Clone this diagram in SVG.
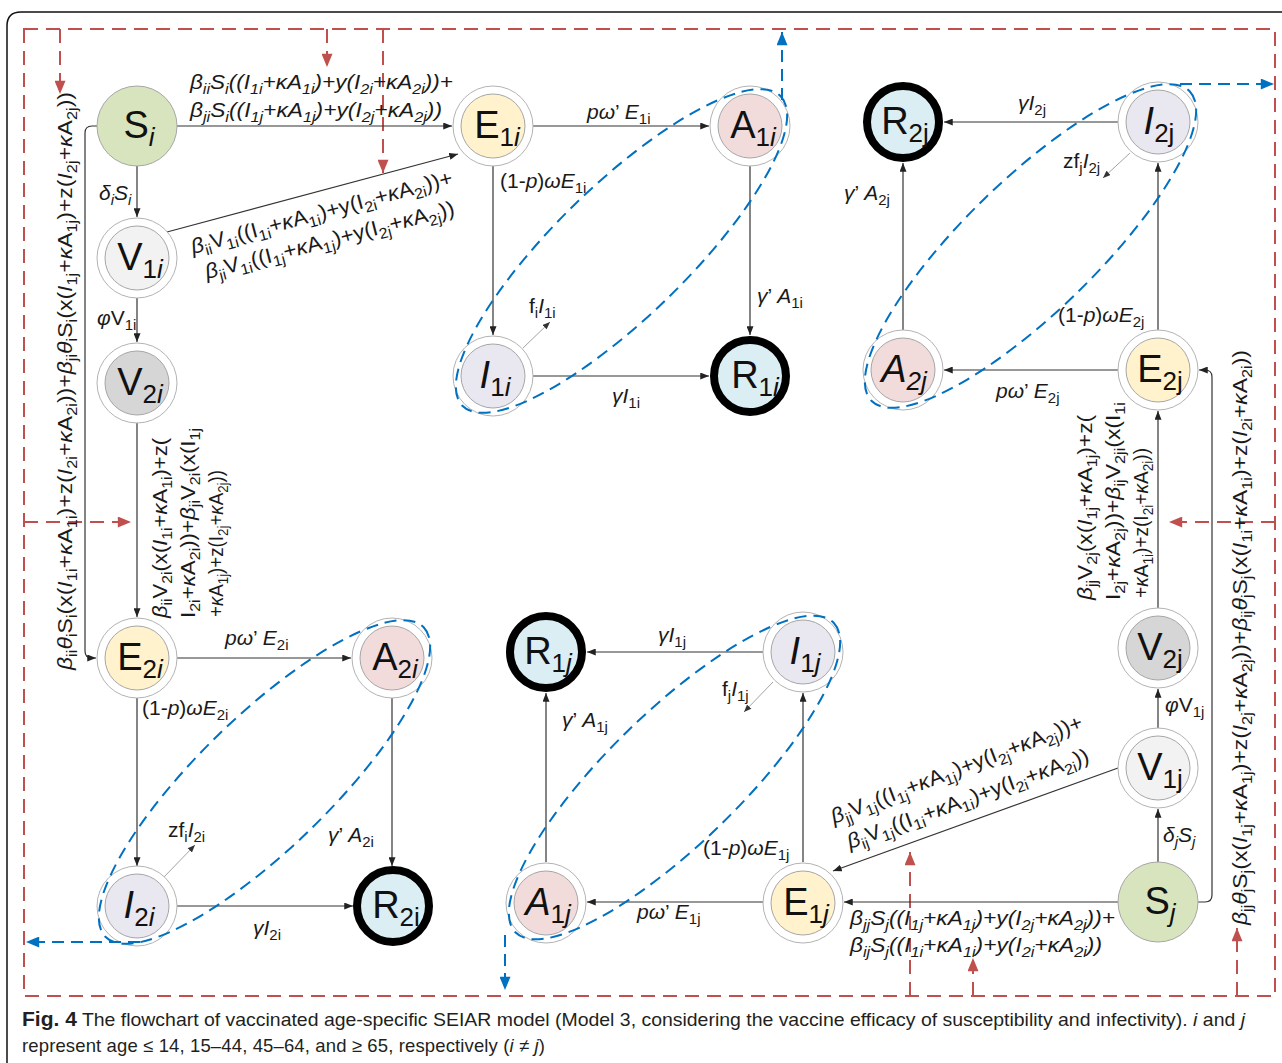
<svg xmlns="http://www.w3.org/2000/svg" width="1282" height="1063" viewBox="0 0 1282 1063">
<style>
.ex{font-family:"Liberation Sans",Arial,sans-serif;font-size:21px;fill:#1a1a1a}
.b{font-size:15px;baseline-shift:-5px}
.i{font-style:italic}
.sf{font-family:"Liberation Serif","Times New Roman",serif}
.nl{font-family:"Liberation Sans",Arial,sans-serif;font-size:38px;fill:#111;text-anchor:middle}
.ns{font-size:26px;baseline-shift:-8px}
.ln{fill:none;stroke:#333;stroke-width:1.2}
.fl{fill:none;stroke:#999;stroke-width:0.9}
.rd{fill:none;stroke:#c0504d;stroke-width:2;stroke-dasharray:14 8}
.bl{fill:none;stroke:#0070c0;stroke-width:2;stroke-dasharray:12 7}
.ring{fill:#fff;stroke:#b3b3b3;stroke-width:1}
.inn{stroke:#a6a6a6;stroke-width:1}
.R{fill:#daeef3;stroke:#000;stroke-width:8}
.S{fill:#d7e4bd;stroke:#a6a6a6;stroke-width:1}
.fE{fill:#fff2cc}.fA{fill:#f2dcdb}.fI{fill:#e9e7ef}.fV1{fill:#f2f2f2}.fV2{fill:#d6d6d6}
.cap{font-family:"Liberation Sans",Arial,sans-serif;font-size:18.5px;fill:#231f20}
</style>
<defs>
<marker id="ak" viewBox="0 0 10 8" refX="10" refY="4" markerWidth="9" markerHeight="7" markerUnits="userSpaceOnUse" orient="auto"><path d="M0,0L10,4L0,8z" fill="#222"/></marker>
<marker id="ag" viewBox="0 0 10 8" refX="10" refY="4" markerWidth="8" markerHeight="6" markerUnits="userSpaceOnUse" orient="auto"><path d="M0,0L10,4L0,8z" fill="#333"/></marker>
<marker id="ar" viewBox="0 0 12 10" refX="12" refY="5" markerWidth="14" markerHeight="11" markerUnits="userSpaceOnUse" orient="auto"><path d="M0,0L12,5L0,10z" fill="#c0504d"/></marker>
<marker id="ab" viewBox="0 0 12 10" refX="12" refY="5" markerWidth="14" markerHeight="11" markerUnits="userSpaceOnUse" orient="auto"><path d="M0,0L12,5L0,10z" fill="#0070c0"/></marker>
</defs>
<rect width="1282" height="1063" fill="#fff"/>
<path d="M7,1063 V26 Q7,12 21,12 H1282" fill="none" stroke="#111" stroke-width="1.5"/>

<g id="red-dashed">
<path class="rd" d="M24,29 H1275 V996 H24 Z"/>
<path class="rd" d="M60,29 V94" marker-end="url(#ar)"/>
<path class="rd" d="M327,29 V67" marker-end="url(#ar)"/>
<path class="rd" d="M383,29 V173" marker-end="url(#ar)"/>
<path class="rd" d="M24,522 H131" marker-end="url(#ar)"/>
<path class="rd" d="M1275,522 H1169" marker-end="url(#ar)"/>
<path class="rd" d="M910,996 V852" marker-end="url(#ar)"/>
<path class="rd" d="M973,996 V958" marker-end="url(#ar)"/>
<path class="rd" d="M1237,996 V928" marker-end="url(#ar)"/>
</g>

<g id="connectors">
<path class="ln" d="M177,126 H452" marker-end="url(#ak)"/>
<path class="ln" d="M137,166 V217" marker-end="url(#ak)"/>
<path class="ln" d="M167,232 L458,154" marker-end="url(#ak)"/>
<path class="ln" d="M137,298 V342" marker-end="url(#ak)"/>
<path class="ln" d="M137,423 V617" marker-end="url(#ak)"/>
<path class="ln" d="M97,126 H92 Q85,126 85,133 V651 Q85,658 92,658 H96" marker-end="url(#ak)"/>
<path class="ln" d="M177,658 H351" marker-end="url(#ak)"/>
<path class="ln" d="M137,698 V866" marker-end="url(#ak)"/>
<path class="ln" d="M392,698 V866" marker-end="url(#ak)"/>
<path class="ln" d="M177,906 H353" marker-end="url(#ak)"/>
<path class="fl" d="M163,878 L195,845" marker-end="url(#ag)"/>
<path class="ln" d="M533,126 H709" marker-end="url(#ak)"/>
<path class="ln" d="M493,166 V335" marker-end="url(#ak)"/>
<path class="ln" d="M750,166 V335" marker-end="url(#ak)"/>
<path class="ln" d="M533,376 H709" marker-end="url(#ak)"/>
<path class="fl" d="M523,348 L550,322" marker-end="url(#ag)"/>
<path class="ln" d="M1118,122 H944" marker-end="url(#ak)"/>
<path class="ln" d="M903,330 V163" marker-end="url(#ak)"/>
<path class="ln" d="M1118,370 H944" marker-end="url(#ak)"/>
<path class="ln" d="M1158,330 V163" marker-end="url(#ak)"/>
<path class="fl" d="M1130,153 L1103,178" marker-end="url(#ag)"/>
<path class="ln" d="M1158,608 V411" marker-end="url(#ak)"/>
<path class="ln" d="M1158,728 V689" marker-end="url(#ak)"/>
<path class="ln" d="M1158,862 V809" marker-end="url(#ak)"/>
<path class="ln" d="M1198,902 H1205 Q1212,902 1212,895 V377 Q1212,370 1205,370 H1199" marker-end="url(#ak)"/>
<path class="ln" d="M1118,902 H844" marker-end="url(#ak)"/>
<path class="ln" d="M1118,768 L833,871" marker-end="url(#ak)"/>
<path class="ln" d="M763,902 H587" marker-end="url(#ak)"/>
<path class="ln" d="M803,862 V693" marker-end="url(#ak)"/>
<path class="ln" d="M546,862 V693" marker-end="url(#ak)"/>
<path class="ln" d="M763,652 H587" marker-end="url(#ak)"/>
<path class="fl" d="M773,682 L744,712" marker-end="url(#ag)"/>
</g>

<g id="S_i"><circle class="S" cx="137" cy="126" r="40"/><text class="nl" x="139" y="138">S<tspan class="ns i">i</tspan></text></g>
<g id="V_1i"><circle class="ring" cx="137" cy="258" r="40"/><circle class="inn fV1" cx="137" cy="258" r="32"/><text class="nl" x="140" y="270">V<tspan class="ns">1</tspan><tspan class="ns i">i</tspan></text></g>
<g id="V_2i"><circle class="ring" cx="137" cy="383" r="40"/><circle class="inn fV2" cx="137" cy="383" r="32"/><text class="nl" x="140" y="395">V<tspan class="ns">2</tspan><tspan class="ns i">i</tspan></text></g>
<g id="E_2i"><circle class="ring" cx="137" cy="658" r="40"/><circle class="inn fE" cx="137" cy="658" r="32"/><text class="nl" x="140" y="670">E<tspan class="ns">2</tspan><tspan class="ns i">i</tspan></text></g>
<g id="A_2i"><circle class="ring" cx="392" cy="658" r="40"/><circle class="inn fA" cx="392" cy="658" r="32"/><text class="nl" x="395" y="670">A<tspan class="ns">2</tspan><tspan class="ns i">i</tspan></text></g>
<g id="I_2i"><circle class="ring" cx="137" cy="906" r="40"/><circle class="inn fI" cx="137" cy="906" r="32"/><text class="nl" x="139" y="918"><tspan class="i">I</tspan><tspan class="ns">2</tspan><tspan class="ns i">i</tspan></text></g>
<g id="R_2i"><circle class="R" cx="393" cy="906" r="36"/><text class="nl" x="396" y="918">R<tspan class="ns">2i</tspan></text></g>
<g id="E_1i"><circle class="ring" cx="493" cy="126" r="40"/><circle class="inn fE" cx="493" cy="126" r="32"/><text class="nl" x="497" y="138">E<tspan class="ns">1</tspan><tspan class="ns i">i</tspan></text></g>
<g id="A_1i"><circle class="ring" cx="750" cy="126" r="40"/><circle class="inn fA" cx="750" cy="126" r="32"/><text class="nl" x="753" y="138">A<tspan class="ns">1</tspan><tspan class="ns i">i</tspan></text></g>
<g id="I_1i"><circle class="ring" cx="493" cy="376" r="40"/><circle class="inn fI" cx="493" cy="376" r="32"/><text class="nl" x="495" y="388"><tspan class="i">I</tspan><tspan class="ns">1</tspan><tspan class="ns i">i</tspan></text></g>
<g id="R_1i"><circle class="R" cx="750" cy="376" r="36"/><text class="nl" x="755" y="388">R<tspan class="ns">1</tspan><tspan class="ns i">i</tspan></text></g>
<g id="R_2j"><circle class="R" cx="903" cy="122" r="36"/><text class="nl" x="905" y="134">R<tspan class="ns">2j</tspan></text></g>
<g id="I_2j"><circle class="ring" cx="1158" cy="122" r="40"/><circle class="inn fI" cx="1158" cy="122" r="32"/><text class="nl" x="1159" y="134"><tspan class="i">I</tspan><tspan class="ns">2j</tspan></text></g>
<g id="A_2j"><circle class="ring" cx="903" cy="370" r="40"/><circle class="inn fA" cx="903" cy="370" r="32"/><text class="nl sf i" x="904" y="382">A<tspan class="ns">2j</tspan></text></g>
<g id="E_2j"><circle class="ring" cx="1158" cy="370" r="40"/><circle class="inn fE" cx="1158" cy="370" r="32"/><text class="nl" x="1160" y="382">E<tspan class="ns">2j</tspan></text></g>
<g id="V_2j"><circle class="ring" cx="1158" cy="648" r="40"/><circle class="inn fV2" cx="1158" cy="648" r="32"/><text class="nl" x="1160" y="660">V<tspan class="ns">2j</tspan></text></g>
<g id="V_1j"><circle class="ring" cx="1158" cy="768" r="40"/><circle class="inn fV1" cx="1158" cy="768" r="32"/><text class="nl" x="1160" y="780">V<tspan class="ns">1j</tspan></text></g>
<g id="S_j"><circle class="S" cx="1158" cy="902" r="40"/><text class="nl" x="1160" y="914">S<tspan class="ns i">j</tspan></text></g>
<g id="R_1j"><circle class="R" cx="546" cy="652" r="36"/><text class="nl" x="548" y="664">R<tspan class="ns">1</tspan><tspan class="ns i">j</tspan></text></g>
<g id="I_1j"><circle class="ring" cx="803" cy="652" r="40"/><circle class="inn fI" cx="803" cy="652" r="32"/><text class="nl" x="805" y="664"><tspan class="i">I</tspan><tspan class="ns">1</tspan><tspan class="ns i">j</tspan></text></g>
<g id="A_1j"><circle class="ring" cx="546" cy="903" r="40"/><circle class="inn fA" cx="546" cy="903" r="32"/><text class="nl" x="548" y="915"><tspan class="i">A</tspan><tspan class="ns">1</tspan><tspan class="ns i">j</tspan></text></g>
<g id="E_1j"><circle class="ring" cx="803" cy="903" r="40"/><circle class="inn fE" cx="803" cy="903" r="32"/><text class="nl" x="806" y="915">E<tspan class="ns">1</tspan><tspan class="ns i">j</tspan></text></g>

<g id="blue-dashed">
<ellipse class="bl" cx="621.5" cy="251" rx="222" ry="66" transform="rotate(-44.2 621.5 251)"/>
<ellipse class="bl" cx="1030.5" cy="246" rx="222" ry="66" transform="rotate(-44.2 1030.5 246)"/>
<ellipse class="bl" cx="264.5" cy="782" rx="222" ry="66" transform="rotate(-44.2 264.5 782)"/>
<ellipse class="bl" cx="674.5" cy="777.5" rx="222" ry="66" transform="rotate(-44.2 674.5 777.5)"/>
<path class="bl" d="M782,100 V32" marker-end="url(#ab)"/>
<path class="bl" d="M1180,84 H1274" marker-end="url(#ab)"/>
<path class="bl" d="M140,942 H26" marker-end="url(#ab)"/>
<path class="bl" d="M505,935 V990" marker-end="url(#ab)"/>
</g>

<g id="labels">
<text class="ex i" x="190" y="89" textLength="263" lengthAdjust="spacingAndGlyphs">β<tspan class="b">ii</tspan>S<tspan class="b">i</tspan>((I<tspan class="b">1i</tspan>+κA<tspan class="b">1i</tspan>)+y(I<tspan class="b">2i</tspan>+κA<tspan class="b">2i</tspan>))+</text>
<text class="ex i" x="190" y="117" textLength="252" lengthAdjust="spacingAndGlyphs">β<tspan class="b">ji</tspan>S<tspan class="b">i</tspan>((I<tspan class="b">1j</tspan>+κA<tspan class="b">1j</tspan>)+y(I<tspan class="b">2j</tspan>+κA<tspan class="b">2j</tspan>))</text>
<text class="ex i" x="99" y="200">δ<tspan class="b">i</tspan>S<tspan class="b">i</tspan></text>
<text class="ex" x="193" y="254" transform="rotate(-15 193 254)" textLength="270" lengthAdjust="spacingAndGlyphs"><tspan class="i">β</tspan><tspan class="b">ii</tspan>V<tspan class="b">1i</tspan>((I<tspan class="b">1i</tspan>+<tspan class="i">κ</tspan>A<tspan class="b">1i</tspan>)+y(I<tspan class="b">2i</tspan>+<tspan class="i">κ</tspan>A<tspan class="b">2i</tspan>))+</text>
<text class="ex" x="207" y="279" transform="rotate(-14.5 207 279)" textLength="257" lengthAdjust="spacingAndGlyphs"><tspan class="i">β</tspan><tspan class="b">ji</tspan>V<tspan class="b">1i</tspan>((I<tspan class="b">1j</tspan>+<tspan class="i">κ</tspan>A<tspan class="b">1j</tspan>)+y(I<tspan class="b">2j</tspan>+<tspan class="i">κ</tspan>A<tspan class="b">2j</tspan>))</text>
<text class="ex" x="97" y="325"><tspan class="i">φ</tspan>V<tspan class="b">1i</tspan></text>
<text class="ex" transform="translate(72,670) rotate(-90)" x="0" y="0" textLength="578" lengthAdjust="spacingAndGlyphs"><tspan class="i">β</tspan><tspan class="b">ii</tspan><tspan class="i">θ</tspan><tspan class="b">i</tspan>S<tspan class="b">i</tspan>(x(<tspan class="i">I</tspan><tspan class="b">1i</tspan>+<tspan class="i">κ</tspan>A<tspan class="b">1i</tspan>)+z(<tspan class="i">I</tspan><tspan class="b">2i</tspan>+<tspan class="i">κ</tspan>A<tspan class="b">2i</tspan>))+<tspan class="i">β</tspan><tspan class="b">ji</tspan><tspan class="i">θ</tspan><tspan class="b">i</tspan>S<tspan class="b">i</tspan>(x(<tspan class="i">I</tspan><tspan class="b">1j</tspan>+<tspan class="i">κ</tspan>A<tspan class="b">1j</tspan>)+z(<tspan class="i">I</tspan><tspan class="b">2j</tspan>+<tspan class="i">κ</tspan>A<tspan class="b">2j</tspan>))</text>
<text class="ex" transform="translate(167,618) rotate(-90)" x="0" y="0" textLength="180" lengthAdjust="spacingAndGlyphs"><tspan class="i">β</tspan><tspan class="b">ii</tspan>V<tspan class="b">2i</tspan>(x(<tspan class="i">I</tspan><tspan class="b">1i</tspan>+<tspan class="i">κ</tspan>A<tspan class="b">1i</tspan>)+z(</text>
<text class="ex" transform="translate(195,618) rotate(-90)" x="0" y="0" textLength="190" lengthAdjust="spacingAndGlyphs">I<tspan class="b">2i</tspan>+<tspan class="i">κ</tspan>A<tspan class="b">2i</tspan>))+<tspan class="i">β</tspan><tspan class="b">ji</tspan>V<tspan class="b">2i</tspan>(x(I<tspan class="b">1j</tspan></text>
<text class="ex" transform="translate(223,617) rotate(-90)" x="0" y="0" textLength="147" lengthAdjust="spacingAndGlyphs">+<tspan class="i">κ</tspan>A<tspan class="b">1j</tspan>)+z(I<tspan class="b">2j</tspan>+<tspan class="i">κ</tspan>A<tspan class="b">2j</tspan>))</text>
<text class="ex" x="225" y="645"><tspan class="i">pω</tspan>’ <tspan class="i">E</tspan><tspan class="b">2i</tspan></text>
<text class="ex" x="142" y="715">(1-<tspan class="i">p</tspan>)<tspan class="i">ωE</tspan><tspan class="b">2i</tspan></text>
<text class="ex" x="168" y="837">zf<tspan class="b">i</tspan><tspan class="i">I</tspan><tspan class="b">2i</tspan></text>
<text class="ex" x="328" y="842"><tspan class="i">γ</tspan>’ <tspan class="i">A</tspan><tspan class="b">2i</tspan></text>
<text class="ex" x="253" y="935"><tspan class="i">γI</tspan><tspan class="b">2i</tspan></text>

<text class="ex" x="587" y="119"><tspan class="i">pω</tspan>’ <tspan class="i">E</tspan><tspan class="b">1i</tspan></text>
<text class="ex" x="500" y="188">(1-<tspan class="i">p</tspan>)<tspan class="i">ωE</tspan><tspan class="b">1i</tspan></text>
<text class="ex" x="757" y="303"><tspan class="i">γ</tspan>’ <tspan class="i">A</tspan><tspan class="b">1i</tspan></text>
<text class="ex" x="529" y="313">f<tspan class="b">i</tspan><tspan class="i">I</tspan><tspan class="b">1i</tspan></text>
<text class="ex" x="612" y="403"><tspan class="i">γI</tspan><tspan class="b">1i</tspan></text>

<text class="ex" x="1018" y="110"><tspan class="i">γI</tspan><tspan class="b">2j</tspan></text>
<text class="ex" x="1063" y="168">zf<tspan class="b">j</tspan><tspan class="i">I</tspan><tspan class="b">2j</tspan></text>
<text class="ex" x="844" y="200"><tspan class="i">γ</tspan>’ <tspan class="i">A</tspan><tspan class="b">2j</tspan></text>
<text class="ex" x="1058" y="322">(1-<tspan class="i">p</tspan>)<tspan class="i">ωE</tspan><tspan class="b">2j</tspan></text>
<text class="ex" x="996" y="398"><tspan class="i">pω</tspan>’ <tspan class="i">E</tspan><tspan class="b">2j</tspan></text>
<text class="ex" transform="translate(1092,600) rotate(-90)" x="0" y="0" textLength="185" lengthAdjust="spacingAndGlyphs"><tspan class="i">β</tspan><tspan class="b">jj</tspan>V<tspan class="b">2j</tspan>(x(<tspan class="i">I</tspan><tspan class="b">1j</tspan>+<tspan class="i">κ</tspan>A<tspan class="b">1j</tspan>)+z(</text>
<text class="ex" transform="translate(1120,600) rotate(-90)" x="0" y="0" textLength="198" lengthAdjust="spacingAndGlyphs">I<tspan class="b">2j</tspan>+<tspan class="i">κ</tspan>A<tspan class="b">2j</tspan>))+<tspan class="i">β</tspan><tspan class="b">ij</tspan>V<tspan class="b">2ji</tspan>(x(I<tspan class="b">1i</tspan></text>
<text class="ex" transform="translate(1148,598) rotate(-90)" x="0" y="0" textLength="150" lengthAdjust="spacingAndGlyphs">+<tspan class="i">κ</tspan>A<tspan class="b">1i</tspan>)+z(I<tspan class="b">2i</tspan>+<tspan class="i">κ</tspan>A<tspan class="b">2i</tspan>))</text>
<text class="ex" x="1165" y="712"><tspan class="i">φ</tspan>V<tspan class="b">1j</tspan></text>
<text class="ex i" x="1163" y="842">δ<tspan class="b">j</tspan>S<tspan class="b">j</tspan></text>
<text class="ex" transform="translate(1247,925) rotate(-90)" x="0" y="0" textLength="575" lengthAdjust="spacingAndGlyphs"><tspan class="i">β</tspan><tspan class="b">jj</tspan><tspan class="i">θ</tspan><tspan class="b">j</tspan>S<tspan class="b">j</tspan>(x(<tspan class="i">I</tspan><tspan class="b">1j</tspan>+<tspan class="i">κ</tspan>A<tspan class="b">1j</tspan>)+z(<tspan class="i">I</tspan><tspan class="b">2j</tspan>+<tspan class="i">κ</tspan>A<tspan class="b">2j</tspan>))+<tspan class="i">β</tspan><tspan class="b">ij</tspan><tspan class="i">θ</tspan><tspan class="b">j</tspan>S<tspan class="b">j</tspan>(x(<tspan class="i">I</tspan><tspan class="b">1i</tspan>+<tspan class="i">κ</tspan>A<tspan class="b">1i</tspan>)+z(<tspan class="i">I</tspan><tspan class="b">2i</tspan>+<tspan class="i">κ</tspan>A<tspan class="b">2i</tspan>))</text>
<text class="ex" x="834" y="824" transform="rotate(-21 834 824)" textLength="268" lengthAdjust="spacingAndGlyphs"><tspan class="i">β</tspan><tspan class="b">jj</tspan>V<tspan class="b">1j</tspan>((I<tspan class="b">1j</tspan>+<tspan class="i">κ</tspan>A<tspan class="b">1j</tspan>)+y(I<tspan class="b">2j</tspan>+<tspan class="i">κ</tspan>A<tspan class="b">2j</tspan>))+</text>
<text class="ex" x="850" y="849" transform="rotate(-20 850 849)" textLength="256" lengthAdjust="spacingAndGlyphs"><tspan class="i">β</tspan><tspan class="b">ij</tspan>V<tspan class="b">1j</tspan>((I<tspan class="b">1i</tspan>+<tspan class="i">κ</tspan>A<tspan class="b">1i</tspan>)+y(I<tspan class="b">2i</tspan>+<tspan class="i">κ</tspan>A<tspan class="b">2i</tspan>))</text>
<text class="ex i" x="850" y="925" textLength="265" lengthAdjust="spacingAndGlyphs">β<tspan class="b">jj</tspan>S<tspan class="b">j</tspan>((I<tspan class="b">1j</tspan>+κA<tspan class="b">1j</tspan>)+y(I<tspan class="b">2j</tspan>+κA<tspan class="b">2j</tspan>))+</text>
<text class="ex i" x="850" y="952" textLength="252" lengthAdjust="spacingAndGlyphs">β<tspan class="b">ij</tspan>S<tspan class="b">j</tspan>((I<tspan class="b">1i</tspan>+κA<tspan class="b">1i</tspan>)+y(I<tspan class="b">2i</tspan>+κA<tspan class="b">2i</tspan>))</text>

<text class="ex" x="658" y="642"><tspan class="i">γI</tspan><tspan class="b">1j</tspan></text>
<text class="ex" x="722" y="696">f<tspan class="b">j</tspan><tspan class="i">I</tspan><tspan class="b">1j</tspan></text>
<text class="ex" x="562" y="727"><tspan class="i">γ</tspan>’ <tspan class="i">A</tspan><tspan class="b">1j</tspan></text>
<text class="ex" x="703" y="855">(1-<tspan class="i">p</tspan>)<tspan class="i">ωE</tspan><tspan class="b">1j</tspan></text>
<text class="ex" x="637" y="919"><tspan class="i">pω</tspan>’ <tspan class="i">E</tspan><tspan class="b">1j</tspan></text>
</g>

<g id="caption">
<text class="cap" x="22" y="1026" textLength="1223" lengthAdjust="spacingAndGlyphs"><tspan font-weight="bold" font-size="20px">Fig. 4</tspan>  The flowchart of vaccinated age-specific SEIAR model (Model 3, considering the vaccine efficacy of susceptibility and infectivity). <tspan class="i">i</tspan> and <tspan class="i">j</tspan></text>
<text class="cap" x="22" y="1052" textLength="523" lengthAdjust="spacing">represent age ≤ 14, 15–44, 45–64, and ≥ 65, respectively (<tspan class="i">i</tspan> ≠ <tspan class="i">j</tspan>)</text>
</g>
</svg>
